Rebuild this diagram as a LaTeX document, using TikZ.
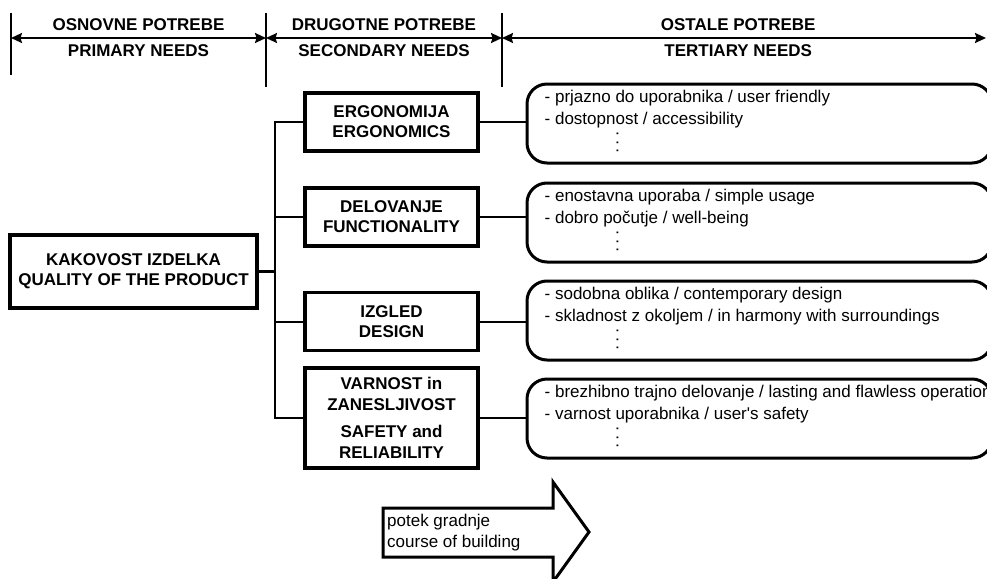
\documentclass[tikz,border=0pt]{standalone}
\usepackage{fontspec}
\setmainfont{Liberation Sans}
\usetikzlibrary{arrows.meta,positioning,calc}
\newcommand{\needlist}[4]{%
  \node[lst] (#1) at (759.5,#2) {};
  \node[itm] (#1a) at ($(#1.north west)+(19,20)$) {- #3};
  \node[itm] (#1b) at ($(#1.north west)+(19,42)$) {- #4};
  \node[dts] (#1c) at ($(#1.north west)+(92,60)$) {\rotatebox{-90}{.\hspace{3.6pt}.\hspace{3.6pt}.}};}

\begin{document}
\begin{tikzpicture}[x=1pt,y=-1pt,font=\fontsize{17}{20}\selectfont,
  hd/.style={font=\fontsize{17}{20}\selectfont\bfseries,inner sep=0,text height=12.2,text depth=0},
  need/.style={draw,line width=3.5pt,minimum width=173,minimum height=58,align=center,
               font=\fontsize{17}{20}\selectfont\bfseries,inner sep=0},
  lst/.style={draw,rounded corners=20pt,line width=3pt,minimum width=465,minimum height=79},
  itm/.style={anchor=base west,inner sep=0,font=\fontsize{17}{22}\selectfont},
  dts/.style={inner sep=0,font=\fontsize{17}{20}\selectfont},
  span/.style={{Stealth[length=11pt,width=10pt,inset=1.5pt]}-{Stealth[length=11pt,width=10pt,inset=1.5pt]},line width=2pt},
  tck/.style={line width=2pt},
  conn/.style={line width=2pt}]
\useasboundingbox (0,0) rectangle (987,578);
% ---- header
\coordinate (k1) at (11,38);
\coordinate (k2) at (266,38);
\coordinate (k3) at (502,38);
\coordinate (k4) at (986,38);
\draw[tck] (11,13) -- (11,75);
\draw[tck] (266,13) -- (266,87);
\draw[tck] (502,13) -- (502,87);
\draw[span] (k1) -- node[hd,above=6pt]{OSNOVNE POTREBE} node[hd,below=5pt]{PRIMARY NEEDS} (k2);
\draw[span] (k2) -- node[hd,above=6pt]{DRUGOTNE POTREBE} node[hd,below=5pt]{SECONDARY NEEDS} (k3);
\draw[span] (k3) -- node[hd,pos=0.488,above=6pt]{OSTALE POTREBE} node[hd,pos=0.488,below=5pt]{TERTIARY NEEDS} (k4);
% ---- primary need
\node[need,minimum width=247,minimum height=73] (qual) at (133.5,271.5) {KAKOVOST IZDELKA\\QUALITY OF THE PRODUCT};
% ---- secondary needs
\node[need] (erg) at (391.5,122) {ERGONOMIJA\\ERGONOMICS};
\node[need] (del) at (391.5,217) {DELOVANJE\\FUNCTIONALITY};
\node[need] (izg) at (391.5,321.5) {IZGLED\\DESIGN};
\node[need,minimum height=100,font=\fontsize{17}{21}\selectfont\bfseries] (var) at (391.5,418)
  {VARNOST in\\ZANESLJIVOST\\[6pt]SAFETY and\\RELIABILITY};
% ---- tertiary needs
\needlist{rb1}{123.5}{prjazno do uporabnika / user friendly}{dostopnost / accessibility}
\needlist{rb2}{222.5}{enostavna uporaba / simple usage}{dobro počutje / well-being}
\needlist{rb3}{320.5}{sodobna oblika / contemporary design}{skladnost z okoljem / in harmony with surroundings}
\needlist{rb4}{418.5}{brezhibno trajno delovanje / lasting and flawless operation}{varnost uporabnika / user\textquotesingle s safety}
% ---- tree
\coordinate (tr) at (275,271.5);
\draw[line width=3pt] (qual.east) -- (tr);
\draw[conn] (erg.west) -- (erg.west -| tr) -- (var.west -| tr) -- (var.west);
\draw[conn] (del.west) -- (del.west -| tr);
\draw[conn] (izg.west) -- (izg.west -| tr);
\draw[conn] (erg.east) -- (erg.east -| rb1.west);
\draw[conn] (del.east) -- (del.east -| rb2.west);
\draw[conn] (izg.east) -- (izg.east -| rb3.west);
\draw[conn] (var.east) -- (var.east -| rb4.west);
% ---- course of building
\draw[line width=3pt,line join=miter] (383,508) -- (553,508) -- (553,482) -- (589,532) -- (553,582) -- (553,557) -- (383,557) -- cycle;
\node[align=left,anchor=west,inner sep=0,font=\fontsize{17}{21}\selectfont] (build) at (387,533) {potek gradnje\\course of building};
\end{tikzpicture}
\end{document}
